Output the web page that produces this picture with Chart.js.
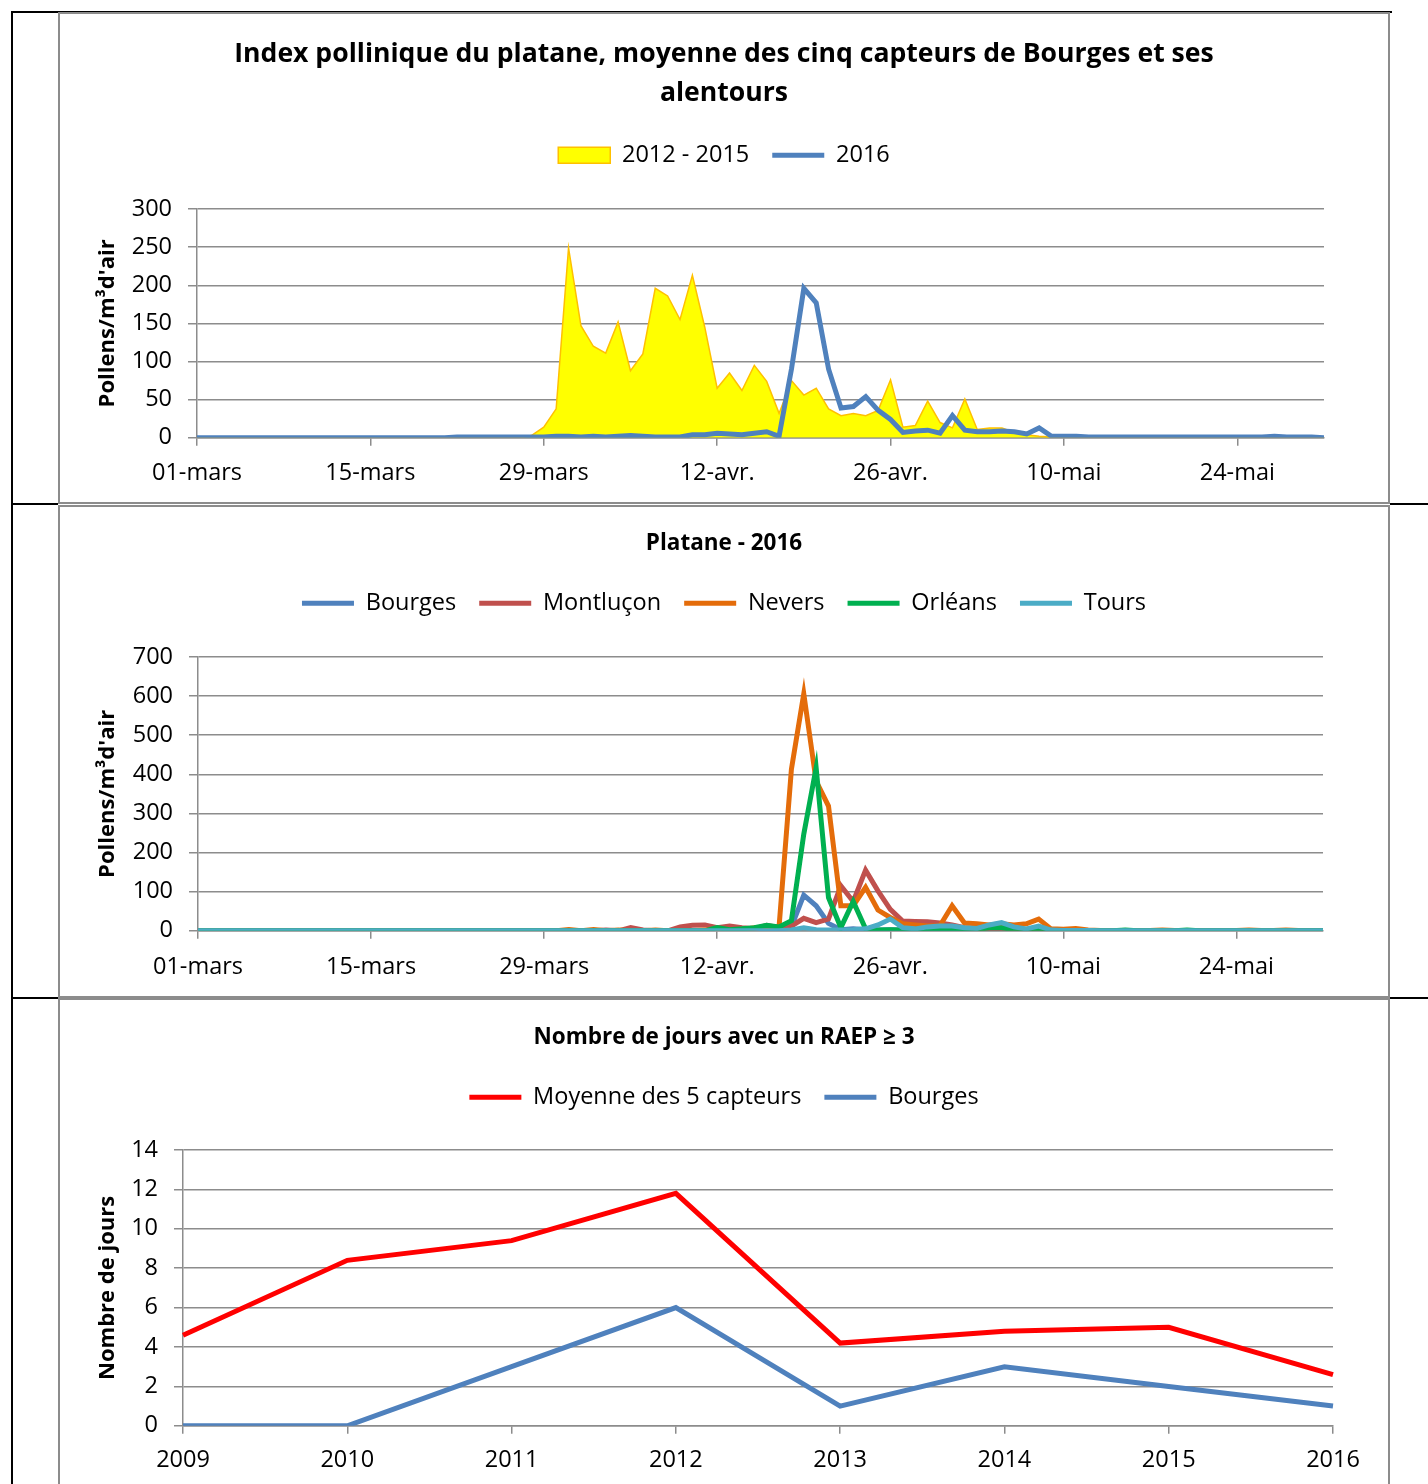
<!DOCTYPE html>
<html>
<head>
<meta charset="utf-8">
<script src="https://cdn.jsdelivr.net/npm/chart.js@4.4.1/dist/chart.umd.min.js"></script>
<style>
  body { margin: 0; width: 1428px; height: 1484px; overflow: hidden; background: #fff; position: relative; }
  .rule { position: absolute; background: #000; }
  .box { position: absolute; left: 58px; width: 1332px; box-sizing: border-box; border: 2px solid #8c8c8c; background: #fff; }
  .box canvas { display: block; }
</style>
</head>
<body>
<div class="rule" style="left:11px;top:11px;width:2px;height:1473px"></div>
<div class="rule" style="left:11px;top:11px;width:1381px;height:2px"></div>
<div class="rule" style="left:11px;top:503px;width:47px;height:2px"></div>
<div class="rule" style="left:1390px;top:503px;width:38px;height:2px"></div>
<div class="rule" style="left:11px;top:997px;width:47px;height:2px"></div>
<div class="rule" style="left:1390px;top:997px;width:38px;height:2px"></div>

<div class="box" style="top:12px;height:492px"><canvas id="chart1" width="1328" height="488"></canvas></div>
<div class="box" style="top:505px;height:493px"><canvas id="chart2" width="1328" height="489"></canvas></div>
<div class="box" style="top:998px;height:495px"><canvas id="chart3" width="1328" height="491"></canvas></div>

<script>
// daily values, 01-mars (index 0) to 31-mai (index 91)
const dayTicks = ["01-mars", "15-mars", "29-mars", "12-avr.", "26-avr.", "10-mai", "24-mai"];

const avg2012_2015 = [
  0, 0, 0, 0, 0, 0, 0, 0, 0, 0,
  0, 0, 0, 0, 0, 0, 0, 0, 0, 0,
  0, 0, 0, 0, 0, 0, 0, 3, 14, 38,
  249, 147, 120, 111, 152, 88, 110, 196, 186, 155,
  213, 145, 65, 85, 62, 95, 74, 32, 75, 56,
  65, 38, 29, 32, 29, 36, 76, 14, 16, 48,
  20, 13, 51, 11, 13, 13, 7, 4, 2, 1,
  0, 0, 0, 0, 0, 0, 0, 0, 0, 0,
  0, 0, 0, 0, 0, 0, 0, 0, 0, 0,
  0, 0
];
const avg2016 = [
  0, 0, 0, 0, 0, 0, 0, 0, 0, 0,
  0, 0, 0, 0, 0, 0, 0, 0, 0, 0,
  0, 1, 1, 1, 1, 1, 1, 1, 1, 2,
  2, 1, 2, 1, 2, 3, 2, 1, 1, 1,
  4, 4, 6, 5, 4, 6, 8, 2, 90, 196,
  177, 90, 39, 41, 54, 36, 24, 7, 9, 10,
  6, 29, 10, 8, 8, 9, 8, 5, 13, 2,
  2, 2, 1, 1, 1, 1, 1, 1, 1, 1,
  1, 1, 1, 1, 1, 1, 1, 2, 1, 1,
  1, 0
];

// 2016 per sensor
const bourges = [
  0, 0, 0, 0, 0, 0, 0, 0, 0, 0,
  0, 0, 0, 0, 0, 0, 0, 0, 0, 0,
  0, 0, 0, 0, 0, 0, 0, 0, 0, 0,
  0, 0, 0, 0, 0, 0, 0, 0, 0, 0,
  0, 0, 8, 3, 2, 3, 5, 3, 10, 91,
  64, 19, 3, 5, 3, 2, 3, 2, 2, 2,
  2, 5, 3, 2, 3, 3, 2, 2, 2, 1,
  1, 1, 0, 0, 0, 0, 0, 0, 0, 0,
  0, 0, 0, 0, 0, 0, 0, 0, 0, 0,
  0, 0
];
const montlucon = [
  0, 0, 0, 0, 0, 0, 0, 0, 0, 0,
  0, 0, 0, 0, 0, 0, 0, 0, 0, 0,
  0, 0, 0, 0, 0, 0, 0, 0, 0, 0,
  0, 0, 0, 2, 0, 8, 2, 0, 0, 10,
  14, 15, 8, 12, 8, 5, 14, 8, 12, 32,
  21, 30, 115, 75, 155, 102, 55, 25, 24, 23,
  20, 15, 8, 5, 3, 2, 2, 1, 1, 1,
  0, 0, 0, 0, 0, 0, 0, 0, 0, 0,
  0, 0, 0, 0, 0, 0, 0, 0, 0, 0,
  0, 0
];
const nevers = [
  0, 0, 0, 0, 0, 0, 0, 0, 0, 0,
  0, 0, 0, 0, 0, 0, 0, 0, 0, 0,
  0, 0, 0, 0, 0, 0, 0, 0, 0, 0,
  3, 0, 3, 0, 2, 0, 0, 2, 0, 0,
  0, 2, 2, 0, 3, 8, 10, 10, 413, 606,
  383, 319, 64, 64, 111, 53, 34, 18, 15, 12,
  12, 64, 20, 18, 15, 18, 15, 18, 30, 5,
  4, 6, 2, 1, 1, 1, 1, 1, 2, 1,
  1, 1, 1, 1, 1, 2, 1, 1, 2, 1,
  1, 0
];
const orleans = [
  0, 0, 0, 0, 0, 0, 0, 0, 0, 0,
  0, 0, 0, 0, 0, 0, 0, 0, 0, 0,
  0, 0, 0, 0, 0, 0, 0, 0, 0, 0,
  0, 0, 0, 0, 0, 0, 0, 0, 0, 0,
  0, 0, 8, 3, 5, 8, 14, 10, 26, 247,
  417, 85, 8, 75, 5, 2, 3, 2, 2, 2,
  2, 5, 2, 3, 8, 8, 3, 2, 2, 1,
  0, 0, 0, 0, 0, 2, 0, 0, 0, 0,
  2, 0, 0, 0, 0, 0, 0, 0, 0, 0,
  0, 0
];
const tours = [
  0, 0, 0, 0, 0, 0, 0, 0, 0, 0,
  0, 0, 0, 0, 0, 0, 0, 0, 0, 0,
  0, 0, 0, 0, 0, 0, 0, 0, 0, 0,
  0, 0, 0, 0, 0, 0, 0, 0, 0, 0,
  0, 0, 0, 0, 0, 0, 0, 0, 2, 8,
  3, 2, 2, 3, 5, 15, 30, 8, 5, 10,
  12, 12, 8, 6, 15, 21, 10, 5, 12, 2,
  1, 1, 1, 0, 0, 0, 0, 0, 0, 0,
  0, 0, 0, 0, 0, 0, 0, 0, 0, 0,
  0, 0
];

// days with RAEP >= 3
const years = ["2009", "2010", "2011", "2012", "2013", "2014", "2015", "2016"];
const raepMoyenne = [4.6, 8.4, 9.4, 11.8, 4.2, 4.8, 5.0, 2.6];
const raepBourges = [0, 0, 3, 6, 1, 3, 2, 1];

const gray = "#8c8c8c";
Chart.defaults.font.family = "'Open Sans', sans-serif";
Chart.defaults.color = "#000";

const xy = (vals) => vals.map((v, i) => ({ x: i, y: v }));

// empty subtitle used as a gap between legend and plot
const gap = (h) => ({ display: true, text: "", weight: 900, font: { size: 1, lineHeight: 1 }, padding: { top: 0, bottom: h - 1 } });

const lineSet = (label, vals, color, order) => ({
  label: label,
  data: vals,
  borderColor: color,
  backgroundColor: color,
  borderWidth: 5,
  pointStyle: "line",
  order: order,
});

function baseOptions(opt) {
  return {
    responsive: false,
    animation: false,
    events: [],
    elements: { point: { radius: 0, hoverRadius: 0 }, line: { tension: 0 } },
    layout: { padding: { left: 0, right: 0, top: 0, bottom: opt.bottom } },
    plugins: {
      title: {
        display: true,
        text: opt.title,
        font: { size: opt.titleSize, weight: "bold", lineHeight: opt.titleLine },
        color: "#000",
        padding: { top: opt.titleTop, bottom: opt.titleBottom },
      },
      subtitle: gap(opt.gap),
      legend: {
        labels: {
          usePointStyle: true,
          pointStyleWidth: 52,
          boxHeight: 16,
          padding: 23,
          color: "#000",
          font: { size: 23.5 },
          sort: (a, b) => a.datasetIndex - b.datasetIndex,
        },
      },
      tooltip: { enabled: false },
    },
    scales: {
      x: {
        grid: { drawOnChartArea: false, color: gray, lineWidth: 1.5, tickLength: 8 },
        border: { color: gray, width: 1.5 },
        ticks: { font: { size: 23.5 }, padding: opt.xPad, maxRotation: 0, minRotation: 0, autoSkip: false },
      },
      y: {
        min: 0,
        max: opt.yMax,
        afterFit: (s) => { s.width = opt.yWidth; },
        grid: { color: gray, lineWidth: 1.5, tickLength: 9 },
        border: { color: gray, width: 1.5 },
        ticks: { stepSize: opt.yStep, font: { size: 23.5 }, padding: 16 },
        title: { display: true, text: opt.yTitle, font: { size: 22, weight: "bold" }, padding: { top: 35, bottom: 0 } },
      },
      // empty right axis, keeps the plot narrower while title and legend stay centred
      yRight: {
        position: "right",
        afterFit: (s) => { s.width = opt.right; },
        grid: { display: false },
        border: { display: false },
        ticks: { display: false },
      },
    },
  };
}

function dayAxis(opt, n) {
  opt.scales.x.type = "linear";
  opt.scales.x.min = 0;
  opt.scales.x.max = n - 1;
  opt.scales.x.ticks.stepSize = 14;
  opt.scales.x.ticks.includeBounds = false;
  opt.scales.x.ticks.callback = (v) => dayTicks[v / 14];
}

// chart 1: mean of the five sensors
const opt1 = baseOptions({
  title: ["Index pollinique du platane, moyenne des cinq capteurs de Bourges et ses", "alentours"],
  titleSize: 26.6, titleLine: "39px", titleTop: 20.5, titleBottom: 8, gap: 32,
  right: 64, bottom: 2, xPad: 13, yMax: 300, yStep: 50, yWidth: 137,
  yTitle: "Pollens/m³d'air",
});
dayAxis(opt1, avg2016.length);

new Chart(document.getElementById("chart1"), {
  type: "line",
  data: {
    datasets: [
      {
        label: "2012 - 2015",
        data: xy(avg2012_2015),
        fill: "origin",
        backgroundColor: "#FFFF00",
        borderColor: "#FFC000",
        borderWidth: 1.5,
        pointStyle: "rect",
        order: 1,
      },
      lineSet("2016", xy(avg2016), "#4F81BD", 0),
    ],
  },
  options: opt1,
});

// chart 2: each sensor in 2016
const opt2 = baseOptions({
  title: "Platane - 2016",
  titleSize: 22.5, titleLine: 1.2, titleTop: 23.5, titleBottom: 11, gap: 32,
  right: 65, bottom: 1, xPad: 14, yMax: 700, yStep: 100, yWidth: 138,
  yTitle: "Pollens/m³d'air",
});
dayAxis(opt2, bourges.length);

new Chart(document.getElementById("chart2"), {
  type: "line",
  data: {
    datasets: [
      lineSet("Bourges", xy(bourges), "#4F81BD", 4),
      lineSet("Montluçon", xy(montlucon), "#C0504D", 3),
      lineSet("Nevers", xy(nevers), "#E46C0A", 2),
      lineSet("Orléans", xy(orleans), "#00B050", 1),
      lineSet("Tours", xy(tours), "#4BACC6", 0),
    ],
  },
  options: opt2,
});

// chart 3: number of days with RAEP >= 3
const opt3 = baseOptions({
  title: "Nombre de jours avec un RAEP ≥ 3",
  titleSize: 22.5, titleLine: 1.2, titleTop: 24.5, titleBottom: 11, gap: 31,
  right: 55, bottom: 5, xPad: 12, yMax: 14, yStep: 2, yWidth: 123,
  yTitle: "Nombre de jours",
});
opt3.scales.x.offset = false;

new Chart(document.getElementById("chart3"), {
  type: "line",
  data: {
    labels: years,
    datasets: [
      lineSet("Moyenne des 5 capteurs", raepMoyenne, "#FF0000", 0),
      lineSet("Bourges", raepBourges, "#4F81BD", 1),
    ],
  },
  options: opt3,
});
</script>
</body>
</html>
